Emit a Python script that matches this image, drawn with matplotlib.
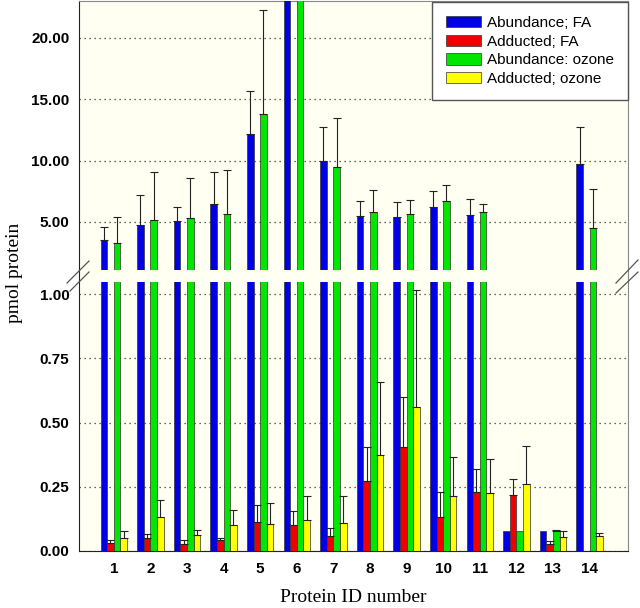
import numpy as np
import matplotlib
matplotlib.use("Agg")
import matplotlib.pyplot as plt
from matplotlib.lines import Line2D

# data (pmol protein)
protein_ids = np.arange(1, 15)

abund_fa = [3.53, 4.73, 5.08, 6.49, 12.2, 26.0, 10.0, 5.51, 5.38, 6.22, 5.57, 0.079, 0.079, 9.76]
abund_fa_err = [1.09, 2.47, 1.12, 2.61, 3.5, 0, 2.7, 1.19, 1.27, 1.33, 1.33, 0, 0, 3.01]

add_fa = [0.030, 0.049, 0.027, 0.043, 0.113, 0.102, 0.060, 0.272, 0.403, 0.132, 0.231, 0.218, 0.027, 0]
add_fa_err = [0.013, 0.016, 0.015, 0.007, 0.065, 0.055, 0.030, 0.134, 0.197, 0.099, 0.088, 0.063, 0.013, 0]

abund_oz = [3.31, 5.16, 5.3, 5.65, 13.8, 27.0, 9.47, 5.82, 5.68, 6.71, 5.79, 0.079, 0.079, 4.49]
abund_oz_err = [2.12, 3.94, 3.3, 3.59, 8.5, 0, 4.03, 1.78, 1.09, 1.28, 0.7, 0, 0.003, 3.19]

add_oz = [0.049, 0.131, 0.062, 0.100, 0.106, 0.119, 0.109, 0.372, 0.559, 0.214, 0.224, 0.261, 0.056, 0.060]
add_oz_err = [0.030, 0.067, 0.020, 0.061, 0.081, 0.096, 0.105, 0.287, 0.458, 0.152, 0.133, 0.146, 0.023, 0.011]

labels = ["Abundance; FA", "Adducted; FA", "Abundance: ozone", "Adducted; ozone"]
colors = ["#0000e6", "#f00000", "#00e600", "#ffff00"]

series = [(abund_fa, abund_fa_err), (add_fa, add_fa_err),
          (abund_oz, abund_oz_err), (add_oz, add_oz_err)]

bg_color = "#fffff2"
width = 0.18

# layout in figure fractions
L, W = 79 / 640, 549 / 640

fig = plt.figure(figsize=(6.4, 6.08), dpi=100)

# one cream background covering both panels, with the spines
bg = fig.add_axes([L, 57 / 608, W, 550 / 608], facecolor=bg_color)
bg.set_xticks([])
bg.set_yticks([])
bg.spines["left"].set_color("#222222")
bg.spines["bottom"].set_color("#222222")
bg.spines["top"].set_color("#888888")
bg.spines["right"].set_color("#888888")

ax_top = fig.add_axes([L, 338 / 608, W, 269 / 608], facecolor="none")
ax_bot = fig.add_axes([L, 57 / 608, W, 269 / 608], facecolor="none")

for ax in (ax_top, ax_bot):
    for i, (vals, errs) in enumerate(series):
        x = protein_ids + (i - 1.5) * width
        vals = np.array(vals, dtype=float)
        errs = np.array(errs, dtype=float)
        ax.bar(x, vals, width, color=colors[i], edgecolor="#333333",
               linewidth=0.5, label=labels[i], zorder=2)
        m = errs > 0
        ax.errorbar(x[m], vals[m], yerr=[np.zeros(m.sum()), errs[m]],
                    fmt="none", ecolor="#222222", elinewidth=0.8,
                    capsize=2.8, capthick=0.8, zorder=3)
    for s in ax.spines.values():
        s.set_visible(False)
    ax.set_xlim(0.05, 15.05)
    ax.set_axisbelow(True)
    ax.yaxis.grid(True, color="#333333", linestyle=(0, (1, 3)), linewidth=0.9)
    ax.tick_params(length=0)
    ax.yaxis.set_major_formatter(matplotlib.ticker.FormatStrFormatter("%.2f"))

ax_top.set_ylim(1.09, 23.0)
ax_top.set_yticks([5, 10, 15, 20])
ax_top.set_xticks([])

ax_bot.set_ylim(0, 1.047)
ax_bot.set_yticks([0, 0.25, 0.5, 0.75, 1.0])
ax_bot.set_xticks(protein_ids)

for ax in (ax_top, ax_bot):
    ax.tick_params(axis="y", pad=7)
    ax.tick_params(axis="x", pad=8)
    for t in ax.get_yticklabels() + ax.get_xticklabels():
        t.set_fontfamily("Liberation Sans")
        t.set_fontweight("bold")
        t.set_fontsize(11)

# legend
leg = ax_top.legend(loc="upper right", bbox_to_anchor=(1.0, 0.995),
                    frameon=True, fancybox=False, framealpha=1,
                    edgecolor="#555555", borderpad=0.9, labelspacing=0.3,
                    handlelength=2.3, handleheight=0.75, handletextpad=0.4,
                    borderaxespad=0, prop={"family": "Liberation Sans", "size": 11})
leg.get_frame().set_linewidth(1.0)
leg.set_zorder(5)

# axis labels
fig.text(15 / 640, 1 - 273 / 608, "pmol protein", rotation=90, ha="center", va="center",
         fontfamily="Liberation Serif", fontsize=14)
fig.text((L + W / 2), 1 - 598 / 608, "Protein ID number", ha="center", va="center",
         fontfamily="Liberation Serif", fontsize=14)

# axis break marks
def brk(x0, y0, x1, y1):
    fig.add_artist(Line2D([x0 / 640, x1 / 640], [1 - y0 / 608, 1 - y1 / 608],
                          transform=fig.transFigure, color="#555555", linewidth=0.9))

brk(67, 283, 89, 261)
brk(70, 291, 89, 272)
brk(616, 283, 638, 260)
brk(616, 293, 638, 272)

fig.savefig("out.png", dpi=100, facecolor="white")
